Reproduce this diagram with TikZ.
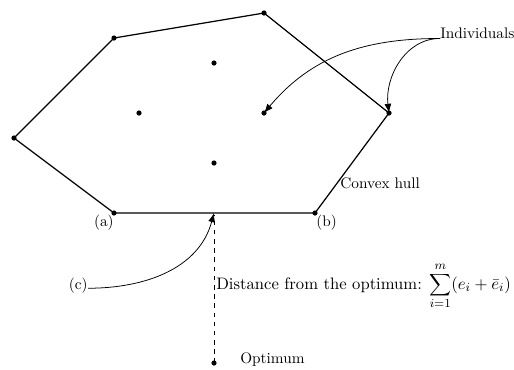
\documentclass[tikz,border=0pt]{standalone}
\usetikzlibrary{arrows.meta}
\begin{document}
\begin{tikzpicture}[x=0.6536pt,y=-0.6536pt,
  hull/.style={line width=0.8pt},
  dot/.style={fill=black},
  lbl/.style={inner sep=0pt},
  biglbl/.style={inner sep=0pt,font=\fontsize{10.85}{13}\selectfont},
  pointer/.style={line width=0.5pt,-{Latex[length=6pt,width=4.5pt]}}]
\useasboundingbox (0,0) rectangle (514,369);
% hull vertices
\coordinate (p1) at (14,138);
\coordinate (p2) at (114,38);
\coordinate (p3) at (264,13);
\coordinate (p4) at (389,113);
\coordinate (pb) at (315,213);
\coordinate (pa) at (114,213);
% inner individuals
\coordinate (q1) at (214,63);
\coordinate (q2) at (139,113);
\coordinate (q3) at (264,113);
\coordinate (q4) at (214,163);
\coordinate (mid) at (214,213);
\coordinate (opt) at (214,363);
\draw[hull] (p1) -- (p2) -- (p3) -- (p4) -- (pb) -- (pa) -- cycle;
\foreach \p in {p1,p2,p3,p4,pa,pb,q1,q2,q3,q4,opt}
  \fill[dot] (\p) circle (1.7pt);
% labels
\node[lbl,anchor=base west] (ind) at (440,38) {Individuals};
\node[lbl,anchor=west] (hulllbl) at (340,183) {Convex hull};
\node[lbl,anchor=base east] (la) at (114,226) {(a)};
\node[lbl,anchor=base west] (lb) at (316,226) {(b)};
\node[lbl,anchor=base east] (lc) at (88,289) {(c)};
\node[biglbl,anchor=base west] (dist) at (216,289) {Distance from the optimum: $\displaystyle\sum_{i=1}^{m}(e_i+\bar{e}_i)$};
\node[lbl,anchor=base west] (optlbl) at (240,363) {Optimum};
% connectors
\draw[pointer] (ind.south west) to[out=180,in=50] (q3);
\draw[pointer] (ind.south west) to[out=180,in=97] (p4);
\draw[pointer] ([yshift=-2pt]lc.east) to[out=0,in=-105] (mid);
\draw[dashed,line width=0.5pt] (opt) -- ([yshift=-1pt]mid);
\end{tikzpicture}
\end{document}
